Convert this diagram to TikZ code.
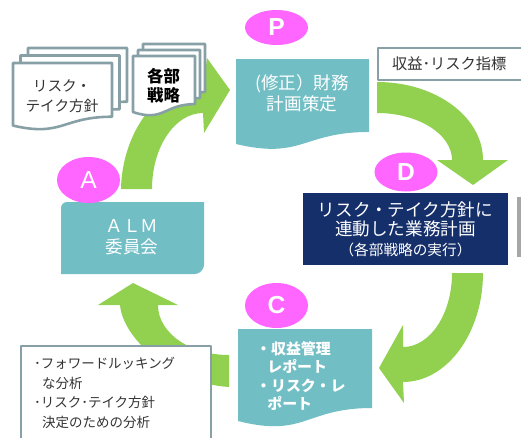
\documentclass[tikz,border=0pt]{standalone}
\usepackage{fontspec}
\setmainfont{Noto Sans CJK JP}
\newfontfamily\latinfont{Liberation Sans}
\usetikzlibrary{shapes.geometric}
\definecolor{almteal}{HTML}{72BEC5}
\definecolor{pdcapink}{HTML}{FF66FF}
\definecolor{arrowgreen}{HTML}{92D050}
\definecolor{plannavy}{HTML}{152F6A}
\definecolor{docgrey}{HTML}{87A0A6}
% document shape with wavy bottom: x, y, width, height
\newcommand{\docpath}[4]{(#1,#2) -- ++(#3,0) -- ++(0,{0.802*#4}) .. controls +({-0.5*#3},0) and +({0.5*#3},{0.173*#4}) .. (#1,{#2+0.934*#4}) -- cycle}
\begin{document}
\begin{tikzpicture}[x=0.03cm,y=-0.03cm,line join=round,
    pdcadot/.style={ellipse,fill=pdcapink,inner sep=0pt,minimum width=1.89cm,text=white,font=\latinfont\bfseries\fontsize{21}{21}\selectfont},
    docline/.style={draw=docgrey,line width=2.2pt,fill=white},
    greenarrow/.style={fill=arrowgreen},
    boxtext/.style={text=white,align=center}]
\useasboundingbox (0,0) rectangle (521,437);
\clip (0,0) rectangle (521,437);
% curved arrows
\fill[greenarrow] (121,189) .. controls (122,133) and (158,82) .. (204,82) -- (207,58) -- (230,90) -- (204,133) -- (203,113) .. controls (175,113) and (152,147) .. (152,189) -- cycle;
\fill[greenarrow] (377,82) .. controls (436,82) and (483,117) .. (483,160) -- (508,160) -- (473,185) -- (437,160) -- (452,160) .. controls (452,134) and (418,113) .. (377,113) -- cycle;
\fill[greenarrow] (483,273) .. controls (483,333) and (447,382) .. (403,382) -- (404,403) -- (379,368) -- (403,325) -- (403,347) .. controls (430,347) and (452,314) .. (452,273) -- cycle;
\fill[greenarrow] (229,387) .. controls (175,384) and (123,340) .. (120,305) -- (98,305) -- (133,283) -- (178,305) -- (158,305) .. controls (158,333) and (190,355) .. (229,355) -- cycle;
% document stacks
\draw[docline] \docpath{28}{48}{99}{67};
\draw[docline] \docpath{20.5}{55.5}{99}{67};
\draw[docline] \docpath{13}{63}{99}{67};
\node[text=black!80,align=center,font=\fontsize{12.5}{17.5}\selectfont] (riskdoc) at (62,96) {リスク・\\テイク方針};
\draw[docline] \docpath{143}{44}{62}{60};
\draw[docline] \docpath{138}{50}{62}{60};
\draw[docline] \docpath{133}{56}{62}{60};
\node[align=center,font=\bfseries\fontsize{14}{16}\selectfont] (bubu) at (163.5,86) {各部\\戦略};
% P
\fill[almteal] \docpath{236}{59}{133}{91};
\node[boxtext,font=\fontsize{15}{18}\selectfont] (plan) at (302,93) {(修正）財務\\計画策定};
\node[pdcadot,minimum height=1.05cm] (pdot) at (276.5,27.5) {P};
\draw[docgrey,line width=1pt,fill=white] (378,48) rectangle (530,80);
\node[anchor=west,text=black!80,font=\fontsize{13}{15}\selectfont] (kpi) at (388,64) {収益･リスク指標};
% D
\node[fill=plannavy,minimum width=6.15cm,minimum height=2.16cm,boxtext,font=\fontsize{15}{16.5}\selectfont] (do) at (405.5,229) {リスク・テイク方針に\\連動した業務計画\\{\fontsize{12.5}{14}\selectfont （各部戦略の実行）}};
\node[pdcadot,minimum height=1.17cm] (ddot) at (406,172) {D};
\fill[black!35] (517,197) rectangle (525,257);
% C
\fill[almteal] \docpath{238}{329}{134}{98.5};
\node[anchor=west,text=white,align=left,font=\bfseries\fontsize{12.75}{15.8}\selectfont] (check) at (252,376) {・収益管理\\\hspace*{0.75em}レポート\\・リスク・レ\\\hspace*{0.75em}ポート};
\node[pdcadot,minimum height=1.35cm] (cdot) at (276.5,305.5) {C};
\draw[docgrey,line width=1.6pt,fill=white] (21,346) rectangle (211,450);
\node[anchor=west,text=black!80,align=left,font=\fontsize{11.5}{16.6}\selectfont] (analysis) at (30,393) {･フォワードルッキング\\\hspace*{0.6em}な分析\\･リスク･テイク方針\\\hspace*{0.6em}決定のための分析};
% A
\fill[almteal] (61,274) -- (61,208) .. controls (61,204.7) and (63.7,202) .. (67,202) -- (204,202) -- (204,265) .. controls (204,269) and (200,274) .. (195,274) -- cycle;
\node[boxtext,font=\fontsize{15}{18}\selectfont] (alm) at (132,237) {ＡＬＭ\\委員会};
\node[pdcadot,minimum height=1.38cm,font=\latinfont\fontsize{21}{21}\selectfont] (adot) at (88.5,180) {A};
\end{tikzpicture}
\end{document}
